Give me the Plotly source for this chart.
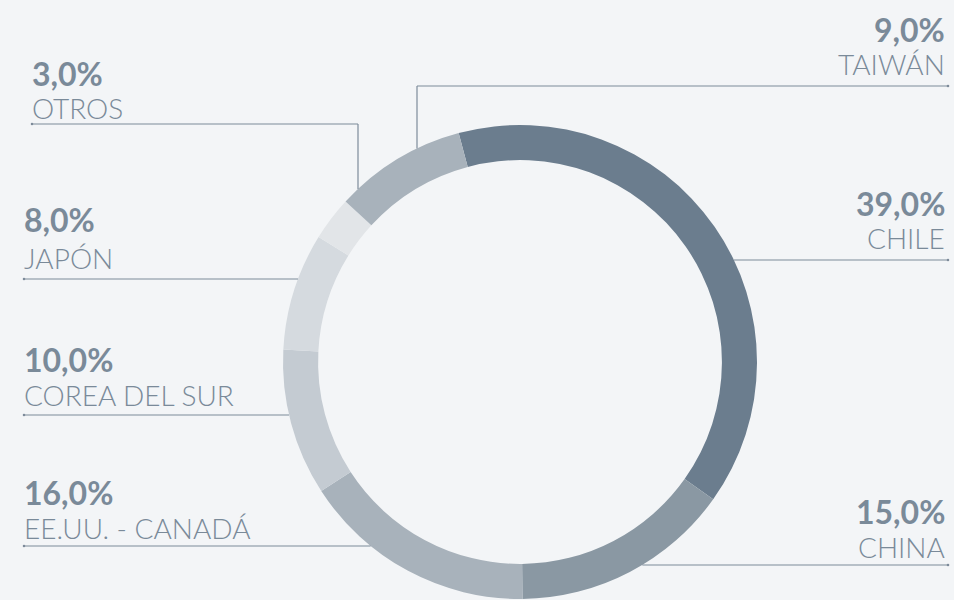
import math
import plotly.graph_objects as go

# Export shares by destination
labels = ["CHILE", "CHINA", "EE.UU. - CANADÁ", "COREA DEL SUR", "JAPÓN", "OTROS", "TAIWÁN"]
values = [39.0, 15.0, 16.0, 10.0, 8.0, 3.0, 9.0]
slice_colors = ["#6b7d8e", "#8a98a3", "#a8b2bb", "#c4cbd2", "#d5dadf", "#e2e5e8", "#a8b2bb"]

W, H = 954, 600
BG = "#f3f5f7"
TXT = "#7a8a99"
LINE = "#7d8b9a"

# Donut geometry in pixels
CX, CY, R = 520, 362, 237
TOP, BOT = CY - R, CY + R

# Callout layout: side, text x, leader y, baselines of value / name, optional elbow x
callouts = {
    "TAIWÁN": dict(side="right", tx=947, ly=86, vb=41, nb=74, elbow=417),
    "CHILE": dict(side="right", tx=947, ly=260, vb=215, nb=248, elbow=None),
    "CHINA": dict(side="right", tx=947, ly=565, vb=523, nb=557, elbow=None),
    "OTROS": dict(side="left", tx=30, ly=124, vb=85, nb=118, elbow=358, lx0=32),
    "JAPÓN": dict(side="left", tx=22, ly=279, vb=231, nb=268, elbow=None),
    "COREA DEL SUR": dict(side="left", tx=22, ly=415, vb=371, nb=405, elbow=None),
    "EE.UU. - CANADÁ": dict(side="left", tx=22, ly=546, vb=504, nb=538, elbow=None),
}


def px(x):
    return x / W


def py(y):
    return (BOT - y) / (BOT - TOP)


fig = go.Figure(go.Pie(
    labels=labels,
    values=values,
    hole=0.852,
    sort=False,
    direction="clockwise",
    rotation=-15,
    marker=dict(colors=slice_colors, line=dict(width=0)),
    textinfo="none",
    hoverinfo="label+percent",
    domain=dict(x=[px(CX - R), px(CX + R)], y=[0, 1]),
    showlegend=False,
))

shapes = []
annotations = []
for lab, val in zip(labels, values):
    c = callouts[lab]
    ly = c["ly"]
    if c["elbow"] is not None:
        ex = c["elbow"]
        ey = CY - math.sqrt(R * R - (ex - CX) ** 2)
        if c["side"] == "left":
            pts = [(c.get("lx0", 24), ly), (ex, ly), (ex, ey)]
        else:
            pts = [(948, ly), (ex, ly), (ex, ey)]
    else:
        dx = math.sqrt(R * R - (ly - CY) ** 2)
        if c["side"] == "left":
            pts = [(24, ly), (CX - dx, ly)]
        else:
            pts = [(948, ly), (CX + dx, ly)]
    for (x0, y0), (x1, y1) in zip(pts[:-1], pts[1:]):
        shapes.append(dict(type="line", xref="paper", yref="paper",
                           x0=px(x0), y0=py(y0), x1=px(x1), y1=py(y1),
                           line=dict(color=LINE, width=1.2)))
    # small end dot on the outer end of the leader
    sx, sy = pts[0]
    shapes.append(dict(type="circle", xref="paper", yref="paper",
                       x0=px(sx - 1.3), x1=px(sx + 1.3), y0=py(sy - 1.3), y1=py(sy + 1.3),
                       fillcolor=LINE, line=dict(width=0)))

    anchor = "left" if c["side"] == "left" else "right"
    pct = f"{val:.1f}".replace(".", ",") + "%"
    annotations.append(dict(
        x=px(c["tx"]), y=py(c["vb"] + 10), xref="paper", yref="paper",
        text=pct, showarrow=False, xanchor=anchor, yanchor="bottom",
        font=dict(family="Lato", size=32, color=TXT, weight=700),
    ))
    annotations.append(dict(
        x=px(c["tx"]), y=py(c["nb"] + 9), xref="paper", yref="paper",
        text=lab, showarrow=False, xanchor=anchor, yanchor="bottom",
        font=dict(family="Lato", size=28, color=TXT, weight=300),
    ))

fig.update_layout(
    width=W, height=H,
    margin=dict(l=0, r=0, t=TOP, b=H - BOT),
    paper_bgcolor=BG, plot_bgcolor=BG,
    shapes=shapes, annotations=annotations,
)

fig.write_html("out.html", config={"displayModeBar": False})
